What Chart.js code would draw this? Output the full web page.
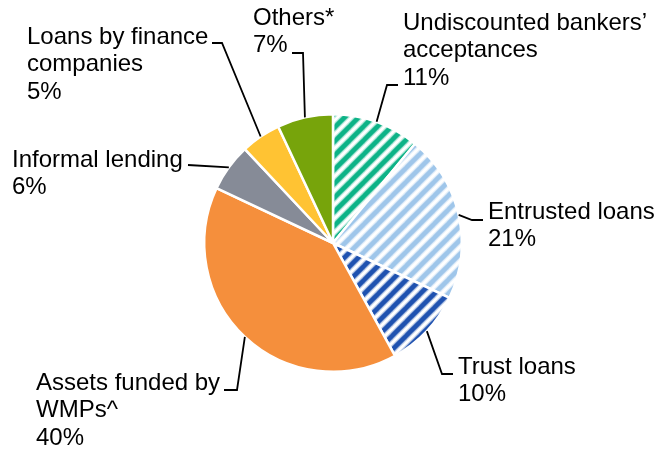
<!DOCTYPE html>
<html>
<head>
<meta charset="utf-8">
<script src="https://cdn.jsdelivr.net/npm/chart.js@4/dist/chart.umd.min.js"></script>
<style>
  html, body { margin: 0; padding: 0; background: #ffffff; }
  #wrap { width: 655px; height: 451px; position: relative; }
</style>
</head>
<body>
<div id="wrap"><canvas id="pie" width="655" height="451"></canvas></div>
<script>
// Shadow-banking composition, share of total (%), clockwise from 12 o'clock
const categories = [
  ['Undiscounted bankers\u2019', 'acceptances'],
  ['Entrusted loans'],
  ['Trust loans'],
  ['Assets funded by', 'WMPs^'],
  ['Informal lending'],
  ['Loans by finance', 'companies'],
  ['Others*']
];
const shares = [11, 21, 10, 40, 6, 5, 7];

// Fill styles: hatched slices get a diagonal stripe pattern
const sliceColors = ['#0db387', '#9fc6ea', '#1f52b0', '#f58f3c', '#868b97', '#ffc333', '#77a40b'];
const hatched = [true, true, true, false, false, false, false];

function stripePattern(color) {
  const p = 14;
  const c = document.createElement('canvas');
  c.width = p; c.height = p;
  const g = c.getContext('2d');
  g.lineCap = 'square';
  // soft outer edge, then the solid stripe core
  [[7, 0.35], [4.5, 1]].forEach(([w, a]) => {
    g.globalAlpha = a;
    g.strokeStyle = color;
    g.lineWidth = w;
    for (const off of [-p, 0, p]) {
      g.beginPath();
      g.moveTo(off, p);
      g.lineTo(off + p, 0);
      g.stroke();
    }
  });
  return document.getElementById('pie').getContext('2d').createPattern(c, 'repeat');
}

const fills = sliceColors.map((c, i) => hatched[i] ? stripePattern(c) : c);

// Label layout: text anchor, leader elbow and leader end for each slice
const labelLayout = [
  { x: 403, y: 23, elbow: [387, 85], end: [398, 85] },
  { x: 488, y: 212, elbow: [472, 220], end: [483, 220] },
  { x: 458, y: 367, elbow: [442, 374], end: [453, 374] },
  { x: 36, y: 383, elbow: [237, 390], end: [224, 390] },
  { x: 12, y: 160, elbow: [188, 165], end: [188, 165] },
  { x: 27, y: 37, elbow: [222, 43], end: [212, 43] },
  { x: 253, y: 18, elbow: [303, 53], end: [292, 53] }
];
const lineHeight = 27.5;

const calloutPlugin = {
  id: 'callouts',
  afterDatasetsDraw(chart) {
    const ctx = chart.ctx;
    const meta = chart.getDatasetMeta(0);
    ctx.save();
    ctx.font = '24px "Liberation Sans", Arial, sans-serif';
    ctx.fillStyle = '#000000';
    ctx.textBaseline = 'middle';
    ctx.textAlign = 'left';
    ctx.strokeStyle = '#000000';
    ctx.lineWidth = 1.8;
    meta.data.forEach((arc, i) => {
      const mid = (arc.startAngle + arc.endAngle) / 2;
      const sx = arc.x + Math.cos(mid) * arc.outerRadius;
      const sy = arc.y + Math.sin(mid) * arc.outerRadius;
      const L = labelLayout[i];
      ctx.beginPath();
      ctx.moveTo(sx, sy);
      ctx.lineTo(L.elbow[0], L.elbow[1]);
      ctx.lineTo(L.end[0], L.end[1]);
      ctx.stroke();
      const lines = categories[i].concat([shares[i] + '%']);
      lines.forEach((t, k) => ctx.fillText(t, L.x, L.y + k * lineHeight));
    });
    ctx.restore();
  }
};

new Chart(document.getElementById('pie'), {
  type: 'pie',
  data: {
    labels: categories.map(c => c.join(' ')),
    datasets: [{
      data: shares,
      backgroundColor: fills,
      borderColor: '#ffffff',
      borderWidth: 2.5
    }]
  },
  options: {
    responsive: false,
    animation: false,
    layout: { padding: { left: 203, right: 192, top: 113, bottom: 78 } },
    plugins: {
      legend: { display: false },
      tooltip: { enabled: false }
    }
  },
  plugins: [calloutPlugin]
});
</script>
</body>
</html>
